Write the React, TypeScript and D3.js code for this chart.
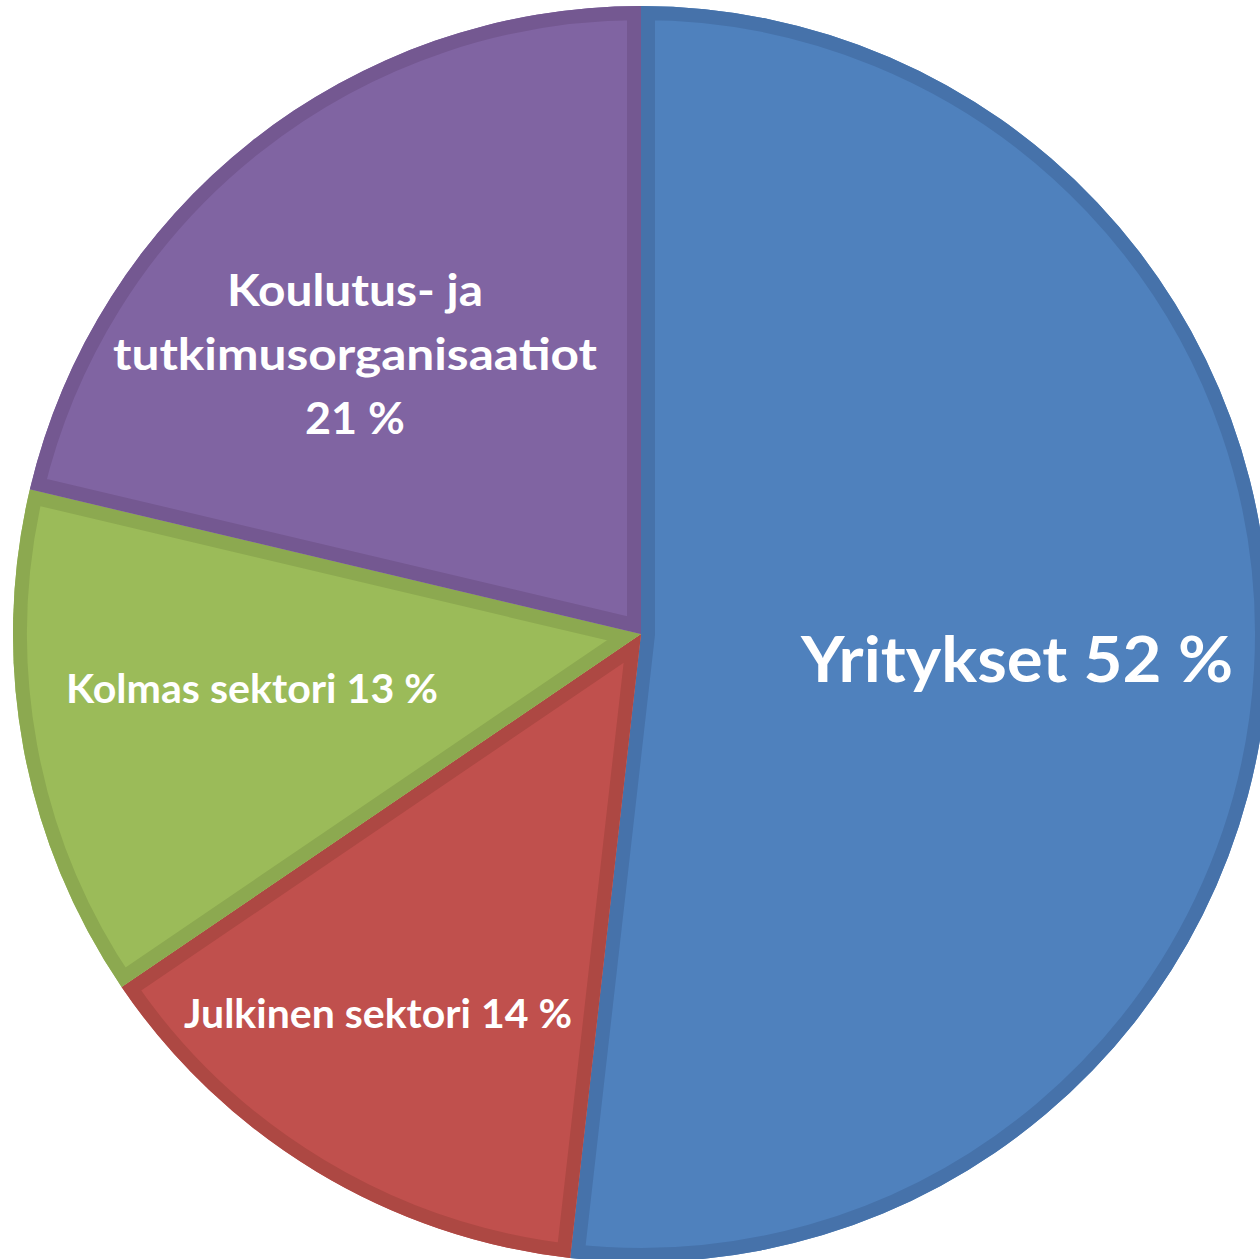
import React from "react";
import * as d3 from "d3";

const categories = ["Yritykset", "Julkinen sektori", "Kolmas sektori", "Koulutus- ja tutkimusorganisaatiot"];
const shares = [51.8, 13.7, 13.2, 21.3];
const fills = ["#4F81BD", "#C0504D", "#9BBB59", "#8064A2"];
const bands = ["#4672AA", "#AD4843", "#8CA950", "#745891"];

// label layout (lines, anchor x, first baseline, font size, text width, line gap)
const labelLines = [
  ["Yritykset 52 %"],
  ["Julkinen sektori 14 %"],
  ["Kolmas sektori 13 %"],
  ["Koulutus- ja", "tutkimusorganisaatiot", "21 %"],
];
const labelX = [1017, 378, 252, 355];
const labelY = [682, 1028, 703, 306];
const labelSize = [64, 40, 40, 44];
const labelWidths = [[432], [388], [372], [256, 484, 100]];
const labelGap = [0, 0, 0, 64];

const W = 1260;
const H = 1259;
const cx = 641;
const cy = 634;
const R = 628;
const BAND = 14;

export default function App() {
  const pie = d3.pie<number>().sort(null).value((d) => d).startAngle(0).endAngle(2 * Math.PI);
  const arcs = pie(shares);
  const arc = d3.arc<d3.PieArcDatum<number>>().innerRadius(0).outerRadius(R);

  return (
    <svg
      width={W}
      height={H}
      style={{ position: "absolute", left: 0, top: 0, background: "#fff" }}
      fontFamily="Lato, 'Open Sans', sans-serif"
    >
      <defs>
        {arcs.map((a, i) => (
          <clipPath id={`clip${i}`} key={i}>
            <path d={arc(a) || ""} />
          </clipPath>
        ))}
      </defs>
      <g transform={`translate(${cx},${cy})`}>
        {arcs.map((a, i) => (
          <g key={i}>
            <path d={arc(a) || ""} fill={fills[i]} />
            <path
              d={arc(a) || ""}
              fill="none"
              stroke={bands[i]}
              strokeWidth={BAND * 2}
              strokeLinejoin="miter"
              strokeMiterlimit={20}
              clipPath={`url(#clip${i})`}
            />
          </g>
        ))}
      </g>
      {labelLines.map((lines, i) => (
        <g key={categories[i]}>
          {lines.map((t, j) => (
            <text
              key={j}
              x={labelX[i]}
              y={labelY[i] + j * labelGap[i]}
              textAnchor="middle"
              fontSize={labelSize[i]}
              fontWeight="bold"
              fill="#ffffff"
              textLength={labelWidths[i][j]}
              lengthAdjust="spacingAndGlyphs"
            >
              {t}
            </text>
          ))}
        </g>
      ))}
    </svg>
  );
}
